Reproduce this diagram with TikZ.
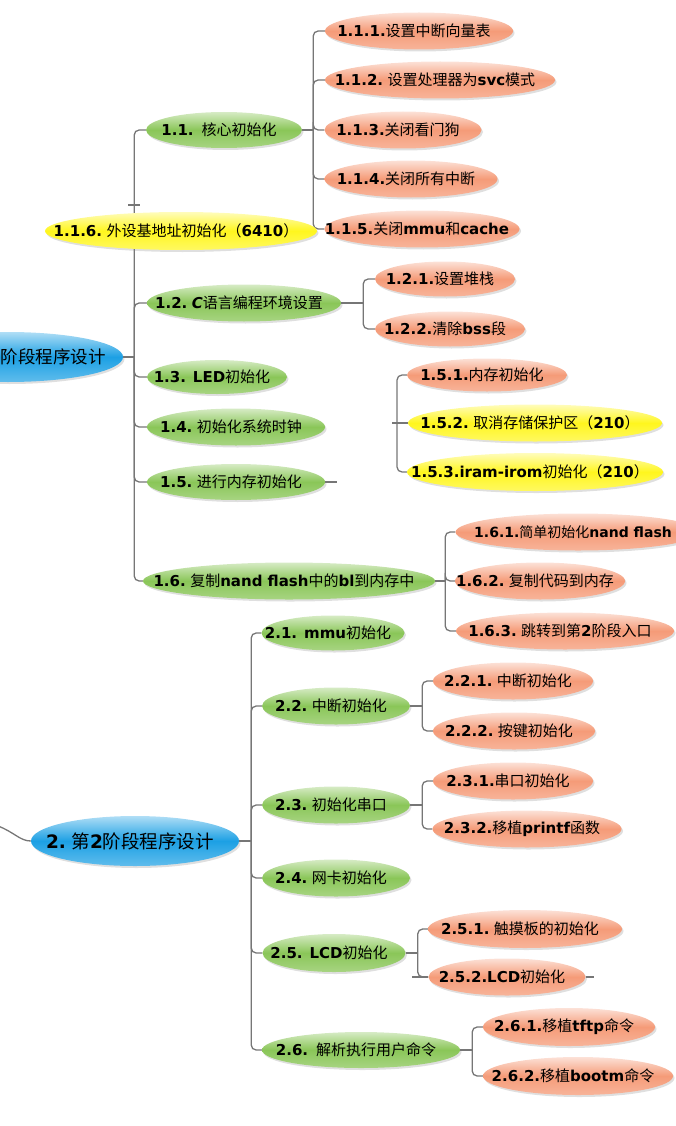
\documentclass[tikz,border=0pt]{standalone}
\usepackage{fontspec}
\setmainfont{DejaVu Sans}
\newfontfamily\zh{Noto Sans CJK SC}
\newfontfamily\latin{DejaVu Sans}
\newcommand\en[1]{{\latin\bfseries #1}}
\usetikzlibrary{shapes.geometric,shadows}
\pgfdeclarelayer{background}
\pgfsetlayers{background,main}

\definecolor{orangefill}{RGB}{245,155,120}
\definecolor{greenfill}{RGB}{138,198,88}
\definecolor{yellowfill}{RGB}{255,246,30}
\definecolor{bluefill}{RGB}{28,160,228}
\definecolor{linkgray}{RGB}{118,118,118}

\tikzset{
  bubble/.style={ellipse, inner sep=0pt, minimum height=37,
    font=\zh\fontsize{15}{18}\selectfont,
    drop shadow={shadow xshift=1.5pt, shadow yshift=-2pt, opacity=0.25},
    execute at begin node={\hbox to 0pt\bgroup\hss},
    execute at end node={\hspace{10pt}\hss\egroup}},
  leaf/.style={bubble, top color=orangefill!30!white, bottom color=orangefill!75!white, middle color=orangefill},
  branch/.style={bubble, top color=greenfill!35!white, bottom color=greenfill!75!white, middle color=greenfill},
  note/.style={bubble, top color=yellowfill!30!white, bottom color=yellowfill!70!white, middle color=yellowfill},
  stage/.style={bubble, minimum height=50, font=\zh\fontsize{18.5}{22}\selectfont,
    top color=bluefill!35!white, bottom color=bluefill!70!white, middle color=bluefill},
  link/.style={draw=linkgray, line width=1.3pt, rounded corners=5pt}
}

\begin{document}
\begin{tikzpicture}[x=1pt,y=-1pt]
  \useasboundingbox (0,0) rectangle (676,1126);
  \clip (0,0) rectangle (676,1126);

  % stage 1
  \node[stage, minimum width=230, font=\zh\fontsize{17.5}{21}\selectfont] (s1) at (8,357) {\hspace*{101pt}阶段程序设计};
  \node[branch, minimum width=156, minimum height=36] (n11) at (224,130) {\en{1.1.}\hspace{8pt}核心初始化};
  \node[note, minimum width=272, minimum height=38] (n116) at (181,231) {\en{1.1.6.} 外设基地址初始化（\en{6410}）};
  \node[branch, minimum width=194] (n12) at (244,303) {\en{1.2.} \en{\itshape C}语言编程环境设置};
  \node[branch, minimum width=140, minimum height=34] (n13) at (217,377) {\en{1.3. LED}初始化};
  \node[branch, minimum width=178] (n14) at (236,427) {\en{1.4.} 初始化系统时钟};
  \node[branch, minimum width=178, minimum height=36] (n15) at (236,482) {\en{1.5.} 进行内存初始化};
  \node[branch, minimum width=292] (n16) at (289,581) {\en{1.6.} 复制\en{nand flash}中的\en{bl}到内存中};

  \node[leaf, minimum width=188] (n111) at (419,31) {\en{1.1.1.}设置中断向量表};
  \node[leaf, minimum width=230] (n112) at (440,80) {\en{1.1.2.} 设置处理器为\en{svc}模式};
  \node[leaf, minimum width=157] (n113) at (403,130) {\en{1.1.3.}关闭看门狗};
  \node[leaf, minimum width=173] (n114) at (411,179) {\en{1.1.4.}关闭所有中断};
  \node[leaf, minimum width=195] (n115) at (422,229) {\en{1.1.5.}关闭\en{mmu}和\en{cache}};

  \node[leaf, minimum width=140, minimum height=35] (n121) at (445,279) {\en{1.2.1.}设置堆栈};
  \node[leaf, minimum width=150, minimum height=35] (n122) at (450,329) {\en{1.2.2.}清除\en{bss}段};

  \node[leaf, minimum width=160, minimum height=33] (n151) at (487,375) {\en{1.5.1.}内存初始化};
  \node[note, minimum width=254] (n152) at (535,423) {\en{1.5.2.} 取消存储保护区（\en{210}）};
  \node[note, minimum width=256, minimum height=38] (n153) at (535,472) {\en{1.5.3.iram-irom}初始化（\en{210}）};

  \node[leaf, minimum width=245, font=\zh\fontsize{14}{17}\selectfont] (n161) at (578,532) {\en{1.6.1.}简单初始化\en{nand flash}};
  \node[leaf, minimum width=170] (n162) at (540,581) {\en{1.6.2.} 复制代码到内存};
  \node[leaf, minimum width=218] (n163) at (565,631) {\en{1.6.3.} 跳转到第\en{2}阶段入口};

  % stage 2
  \node[stage, minimum width=208] (s2) at (135,841) {\en{2.} 第\en{2}阶段程序设计};
  \node[branch, minimum width=143, minimum height=35] (n21) at (333,633) {\en{2.1. mmu}初始化};
  \node[branch, minimum width=148] (n22) at (336,706) {\en{2.2.} 中断初始化};
  \node[branch, minimum width=148] (n23) at (336,805) {\en{2.3.} 初始化串口};
  \node[branch, minimum width=148] (n24) at (336,878) {\en{2.4.} 网卡初始化};
  \node[branch, minimum width=143, minimum height=38] (n25) at (334,953) {\en{2.5. LCD}初始化};
  \node[branch, minimum width=198, minimum height=36] (n26) at (361,1050) {\en{2.6.}\hspace{8pt}解析执行用户命令};

  \node[leaf, minimum width=160] (n221) at (513,681) {\en{2.2.1.} 中断初始化};
  \node[leaf, minimum width=162] (n222) at (514,731) {\en{2.2.2.} 按键初始化};
  \node[leaf, minimum width=160] (n231) at (513,781) {\en{2.3.1.}串口初始化};
  \node[leaf, minimum width=189] (n232) at (527,829) {\en{2.3.2.}移植\en{printf}函数};
  \node[leaf, minimum width=194, minimum height=38] (n251) at (525,929) {\en{2.5.1.} 触摸板的初始化};
  \node[leaf, minimum width=157] (n252) at (507,977) {\en{2.5.2.LCD}初始化};
  \node[leaf, minimum width=172, minimum height=38] (n261) at (569,1027) {\en{2.6.1.}移植\en{tftp}命令};
  \node[leaf, minimum width=190, minimum height=38] (n262) at (578,1076) {\en{2.6.2.}移植\en{bootm}命令};

  % junctions
  \coordinate (j1) at ([xshift=11pt]s1.east);
  \coordinate (j11) at ([xshift=11pt]n11.east);
  \coordinate (j12) at ([xshift=22pt]n12.east);
  \coordinate (j15) at (392,423);
  \coordinate (j16) at ([xshift=10pt]n16.east);
  \coordinate (j2) at ([xshift=12pt]s2.east);
  \coordinate (j22) at ([xshift=12pt]n22.east);
  \coordinate (j23) at ([xshift=12pt]n23.east);
  \coordinate (j25) at ([xshift=12pt]n25.east);
  \coordinate (j26) at ([xshift=12pt]n26.east);
  \coordinate (tick1) at (134,205);
  \coordinate (in2) at (-2,826);

  \begin{pgfonlayer}{background}
  \begin{scope}[link]
    \draw (s1.east) -- (j1);
    \draw (j1) |- (n11.west);
    \draw (j1) |- (n12.west);
    \draw (j1) |- (n13.west);
    \draw (j1) |- (n14.west);
    \draw (j1) |- (n15.west);
    \draw (j1) |- (n16.west);
    \draw ([xshift=-6pt]tick1) -- ([xshift=6pt]tick1);

    \draw (n11.east) -- (j11);
    \draw (j11) |- (n111.west);
    \draw (j11) |- (n112.west);
    \draw (j11) |- (n113.west);
    \draw (j11) |- (n114.west);
    \draw (j11) |- (n115.west);

    \draw (n12.east) -- (j12);
    \draw (j12) |- (n121.west);
    \draw (j12) |- (n122.west);

    \draw (n15.east) -- ++(12,0);
    \draw (j15) -- (n152.west);
    \draw ([xshift=5pt]j15) |- (n151.west);
    \draw ([xshift=5pt]j15) |- (n153.west);

    \draw (n16.east) -- (j16);
    \draw (j16) |- (n161.west);
    \draw (j16) |- (n162.west);
    \draw (j16) |- (n163.west);

    \draw (in2) .. controls (14,832) and (20,841) .. (s2.west);
    \draw (s2.east) -- (j2);
    \draw (j2) |- (n21.west);
    \draw (j2) |- (n22.west);
    \draw (j2) |- (n23.west);
    \draw (j2) |- (n24.west);
    \draw (j2) |- (n25.west);
    \draw (j2) |- (n26.west);

    \draw (n22.east) -- (j22);
    \draw (j22) |- (n221.west);
    \draw (j22) |- (n222.west);

    \draw (n23.east) -- (j23);
    \draw (j23) |- (n231.west);
    \draw (j23) |- (n232.west);

    \draw (n25.east) -- (j25);
    \draw (j25) |- (n251.west);
    \draw (j25) |- (n252.west);
    \draw ([xshift=-16pt]n252.west) -- (n252.west);
    \draw (n252.east) -- ++(8,0);

    \draw (n26.east) -- (j26);
    \draw (j26) |- (n261.west);
    \draw (j26) |- (n262.west);
  \end{scope}
  \end{pgfonlayer}
\end{tikzpicture}
\end{document}
